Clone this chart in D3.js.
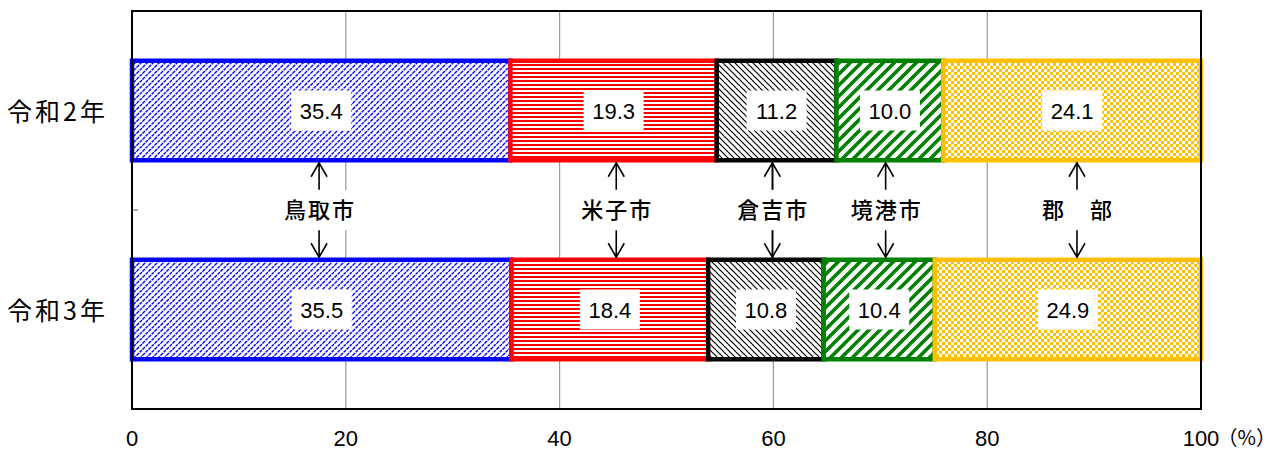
<!DOCTYPE html>
<html><head><meta charset="utf-8">
<script src="https://cdn.jsdelivr.net/npm/d3@7"></script>
<style>
body{margin:0;background:#fff;}
svg{display:block;}
</style></head>
<body><svg id="c" width="1278" height="450"></svg>
<script>
const categories = ["令和2年", "令和3年"];
const regions = ["鳥取市", "米子市", "倉吉市", "境港市", "郡　部"];
const valuesR2 = [35.4, 19.3, 11.2, 10.0, 24.1];
const valuesR3 = [35.5, 18.4, 10.8, 10.4, 24.9];
const seriesValues = [valuesR2, valuesR3];
const xTicks = [0, 20, 40, 60, 80, 100];
const arrowPositions = [17.5, 45.3, 59.9, 70.5, 88.4];
const colors = ["#0000ff", "#ff0000", "#000000", "#008000", "#ffc000"];

const svg = d3.select("#c");
const L = 132, R = 1201, T = 11, B = 409;
const x = d3.scaleLinear().domain([0, 100]).range([L, R]);
const y = d3.scalePoint().domain(categories).range([T, B]).padding(0.5);
const step = y.step();
const barH = step * 0.5;

// patterns
const defs = svg.append("defs");
let p = defs.append("pattern").attr("id", "p0").attr("patternUnits", "userSpaceOnUse").attr("width", 6).attr("height", 6);
p.append("rect").attr("width", 6).attr("height", 6).attr("fill", "#fff");
p.append("path").attr("d", "M-1,7 L7,-1 M-1,1 L1,-1 M5,7 L7,5").attr("stroke", colors[0]).attr("stroke-width", 1.4).attr("stroke-dasharray", "3,0.8");
p = defs.append("pattern").attr("id", "p1").attr("patternUnits", "userSpaceOnUse").attr("width", 8).attr("height", 4);
p.append("rect").attr("width", 8).attr("height", 4).attr("fill", "#fff");
p.append("rect").attr("width", 8).attr("height", 2).attr("fill", colors[1]);
p = defs.append("pattern").attr("id", "p2").attr("patternUnits", "userSpaceOnUse").attr("width", 6).attr("height", 6);
p.append("rect").attr("width", 6).attr("height", 6).attr("fill", "#fff");
p.append("path").attr("d", "M-1,-1 L7,7 M-1,5 L1,7 M5,-1 L7,1").attr("stroke", "#000").attr("stroke-width", 1.2);
p = defs.append("pattern").attr("id", "p3").attr("patternUnits", "userSpaceOnUse").attr("width", 11).attr("height", 11);
p.append("rect").attr("width", 11).attr("height", 11).attr("fill", "#fff");
p.append("path").attr("d", "M-2,13 L13,-2 M-2,2 L2,-2 M9,13 L13,9").attr("stroke", colors[3]).attr("stroke-width", 3.6);
p = defs.append("pattern").attr("id", "p4").attr("patternUnits", "userSpaceOnUse").attr("width", 6).attr("height", 6);
p.append("rect").attr("width", 6).attr("height", 6).attr("fill", "#fff");
p.append("rect").attr("width", 3).attr("height", 3).attr("fill", colors[4]);
p.append("rect").attr("x", 3).attr("y", 3).attr("width", 3).attr("height", 3).attr("fill", colors[4]);

// gridlines
svg.append("g").selectAll("line").data(xTicks.slice(1, -1)).join("line")
  .attr("x1", d => x(d)).attr("x2", d => x(d)).attr("y1", T).attr("y2", B)
  .attr("stroke", "#999").attr("stroke-width", 1.2);

// bars
categories.forEach((cat, ci) => {
  const vals = seriesValues[ci];
  let cum = 0;
  const segs = vals.map((v, i) => { const s = {i, x0: cum, x1: cum + v, v}; cum += v; return s; });
  const g = svg.append("g");
  g.selectAll("rect").data(segs).join("rect")
    .attr("x", d => x(d.x0)).attr("width", d => x(d.x1) - x(d.x0))
    .attr("y", y(cat) - barH / 2).attr("height", barH)
    .attr("fill", d => `url(#p${d.i})`)
    .attr("stroke", d => colors[d.i]).attr("stroke-width", 4.5);
  const lg = svg.append("g");
  lg.selectAll("rect").data(segs).join("rect")
    .attr("x", d => x((d.x0 + d.x1) / 2) - 30).attr("y", y(cat) - 20)
    .attr("width", 60).attr("height", 40).attr("fill", "#fff");
  lg.selectAll("text").data(segs).join("text")
    .attr("x", d => x((d.x0 + d.x1) / 2)).attr("y", y(cat) + 8)
    .attr("text-anchor", "middle")
    .attr("font-family", "Liberation Sans, Arial, sans-serif").attr("font-size", 22)
    .attr("fill", "#000")
    .text(d => d.v.toFixed(1));
});

// frame
svg.append("rect").attr("x", L).attr("y", T).attr("width", R - L).attr("height", B - T)
  .attr("fill", "none").attr("stroke", "#000").attr("stroke-width", 2);

// left ticks at band boundaries
svg.append("g").selectAll("line").data(categories.slice(1)).join("line")
  .attr("x1", L).attr("x2", L + 6)
  .attr("y1", d => y(d) - step / 2).attr("y2", d => y(d) - step / 2)
  .attr("stroke", "#555").attr("stroke-width", 1);

// category labels
svg.append("g").selectAll("text").data(categories).join("text")
  .attr("x", L - 24).attr("y", d => y(d) + 10)
  .attr("text-anchor", "end")
  .attr("font-family", "Noto Sans CJK JP, sans-serif").attr("font-size", 25)
  .attr("letter-spacing", 3)
  .attr("fill", "#000").text(d => d);

// x tick labels
svg.append("g").selectAll("text").data(xTicks).join("text")
  .attr("x", d => x(d)).attr("y", 446)
  .attr("text-anchor", "middle")
  .attr("font-family", "Liberation Sans, Arial, sans-serif").attr("font-size", 22)
  .attr("fill", "#000").text(d => d);
svg.append("text").attr("x", 1276).attr("y", 445)
  .attr("text-anchor", "end")
  .attr("font-family", "Noto Sans CJK JP, sans-serif").attr("font-size", 20)
  .attr("fill", "#000").text("（%）");

// arrows and region labels
const midY = (y(categories[0]) + y(categories[1])) / 2;
const topTip = y(categories[0]) + barH / 2 + 2.5;
const botTip = y(categories[1]) - barH / 2 - 2.5;
const ag = svg.append("g");
regions.forEach((r, i) => {
  const ax = x(arrowPositions[i]);
  const g = ag.append("g");
  g.append("path")
    .attr("d", `M${ax},${topTip} L${ax},${topTip + 27} M${ax - 8},${topTip + 14} L${ax},${topTip} L${ax + 8},${topTip + 14}`)
    .attr("stroke", "#000").attr("stroke-width", 1.6).attr("fill", "none");
  g.append("path")
    .attr("d", `M${ax},${botTip} L${ax},${botTip - 27} M${ax - 8},${botTip - 14} L${ax},${botTip} L${ax + 8},${botTip - 14}`)
    .attr("stroke", "#000").attr("stroke-width", 1.6).attr("fill", "none");
  g.append("rect").attr("x", ax - 40).attr("y", midY - 20).attr("width", 80).attr("height", 40).attr("fill", "#fff");
  g.append("text").attr("x", ax + 1).attr("y", midY + 8)
    .attr("text-anchor", "middle")
    .attr("font-family", "Noto Sans CJK JP, sans-serif").attr("font-size", 22)
    .attr("font-weight", 500)
    .attr("letter-spacing", 2)
    .attr("fill", "#000").text(r);
});
</script></body></html>
